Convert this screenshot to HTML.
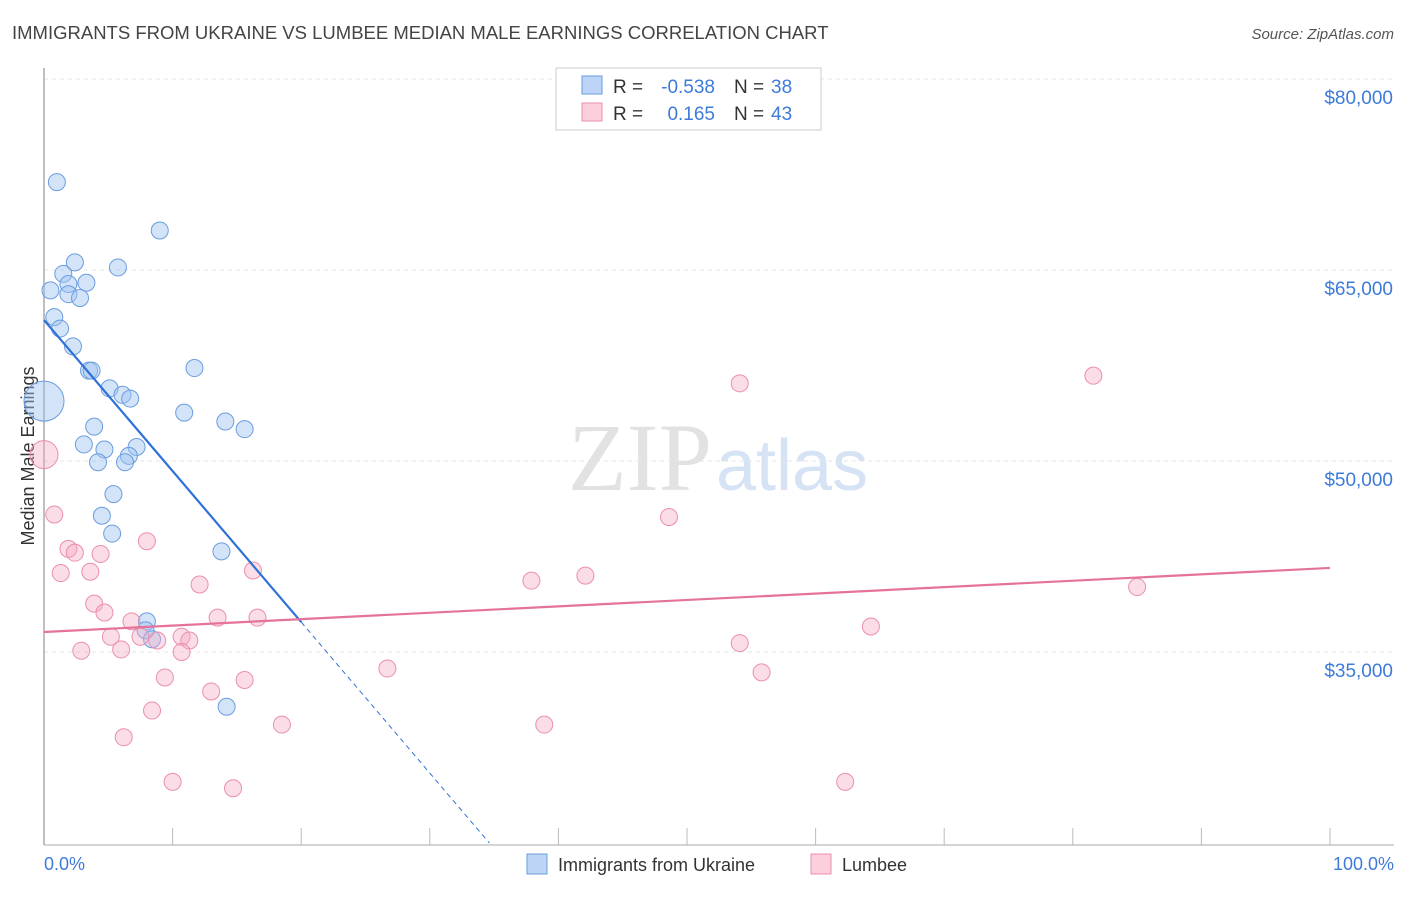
<!DOCTYPE html>
<html><head><meta charset="utf-8"><style>
body{margin:0;background:#fff;font-family:"Liberation Sans",sans-serif;}
</style></head><body>
<svg id="c" width="1406" height="892" xmlns="http://www.w3.org/2000/svg">
<text x="12" y="39" font-size="18.5" fill="#444">IMMIGRANTS FROM UKRAINE VS LUMBEE MEDIAN MALE EARNINGS CORRELATION CHART</text>
<text x="1394" y="39" font-size="15" fill="#555" font-style="italic" text-anchor="end">Source: ZipAtlas.com</text>
<text x="712" y="490" font-size="96" fill="#e2e2e2" text-anchor="end" font-family="Liberation Serif">ZIP</text>
<text x="716" y="490" font-size="72" fill="#d5e3f5">atlas</text>
<g id="grid"></g>
<line x1="44" y1="68" x2="44" y2="845" stroke="#aaa" stroke-width="1.5"/>
<line x1="44" y1="845" x2="1394" y2="845" stroke="#aaa" stroke-width="1"/>
<text x="34" y="456" font-size="18" fill="#333" text-anchor="middle" transform="rotate(-90 34 456)">Median Male Earnings</text>
<text x="44" y="870" font-size="18" fill="#3d7bd9">0.0%</text>
<text x="1394" y="870" font-size="18" fill="#3d7bd9" text-anchor="end">100.0%</text>
<g id="pts"></g>
<g id="lines"></g>
<g>
<rect x="556" y="68" width="265" height="62" fill="#fff" stroke="#ccc"/>
<rect x="582" y="76" width="20" height="18" fill="#bcd4f5" stroke="#6a9de0"/>
<rect x="582" y="103" width="20" height="18" fill="#fbd0dc" stroke="#eb8fac"/>
<text x="613" y="93" font-size="19" fill="#333">R =</text>
<text x="715" y="93" font-size="19" fill="#3d7bd9" text-anchor="end">-0.538</text>
<text x="734" y="93" font-size="19" fill="#333">N =</text>
<text x="771" y="93" font-size="19" fill="#3d7bd9">38</text>
<text x="613" y="120" font-size="19" fill="#333">R =</text>
<text x="715" y="120" font-size="19" fill="#3d7bd9" text-anchor="end">0.165</text>
<text x="734" y="120" font-size="19" fill="#333">N =</text>
<text x="771" y="120" font-size="19" fill="#3d7bd9">43</text>
</g>
<g>
<rect x="527" y="854" width="20" height="20" fill="#bcd4f5" stroke="#6a9de0"/>
<text x="558" y="871" font-size="18" fill="#333">Immigrants from Ukraine</text>
<rect x="811" y="854" width="20" height="20" fill="#fbd0dc" stroke="#eb8fac"/>
<text x="842" y="871" font-size="18" fill="#333">Lumbee</text>
</g>
</svg>
<script>
const yTicks=[35000,50000,65000,80000];
const yTickLabels=["$35,000","$50,000","$65,000","$80,000"];
const xTicks=[0,10,20,30,40,50,60,70,80,90,100];
const ukraineX=[1.0,9.0,2.4,5.75,1.5,1.9,3.3,0.5,1.9,2.8,0.8,1.25,2.25,3.5,3.7,11.7,5.1,6.1,6.7,0,10.9,14.1,15.6,3.9,3.1,4.7,7.2,6.6,4.2,6.3,5.4,4.5,5.3,13.8,8.0,7.9,8.4,14.2];
const ukraineY=[71.9,68.1,65.6,65.2,64.7,63.9,64.0,63.4,63.1,62.8,61.3,60.4,59.0,57.1,57.1,57.3,55.7,55.2,54.9,54.7,53.8,53.1,52.5,52.7,51.3,50.9,51.1,50.4,49.9,49.9,47.4,45.7,44.3,42.9,37.4,36.7,36.0,30.7];
const lumbeeX=[0,0.8,1.9,2.4,4.4,8.0,1.3,3.6,3.9,4.7,12.1,16.25,6.8,13.5,16.6,5.2,7.5,10.7,11.3,8.8,2.9,6.0,10.7,9.4,15.6,13.0,8.4,6.2,18.5,10.0,14.7,26.7,37.9,42.1,38.9,48.6,54.1,54.1,55.8,64.3,62.3,81.6,85.0];
const lumbeeY=[50.5,45.8,43.1,42.8,42.7,43.7,41.2,41.3,38.8,38.1,40.3,41.4,37.4,37.7,37.7,36.2,36.2,36.2,35.9,35.9,35.1,35.2,35.0,33.0,32.8,31.9,30.4,28.3,29.3,24.8,24.3,33.7,40.6,41.0,29.3,45.6,56.1,35.7,33.4,37.0,24.8,56.7,40.1];
const ukraineTrend=[61.07,37.35];
const lumbeeTrend=[36.57,41.6];
const NS="http://www.w3.org/2000/svg";
const sx=v=>44+v*12.86;
const sy=k=>79+(80-k)*12.733;
function mk(t,a,p){const e=document.createElementNS(NS,t);for(const k in a)e.setAttribute(k,a[k]);p.appendChild(e);return e;}
const grid=document.getElementById('grid'),pts=document.getElementById('pts'),lines=document.getElementById('lines');
yTicks.forEach((v,i)=>{
 const l=mk('line',{x1:44,x2:1394,y1:sy(v/1000),y2:sy(v/1000),stroke:'#e4e4e4','stroke-dasharray':'4,4'},grid);
 
 
 const t=mk('text',{x:1393,y:sy(v/1000)+25,'font-size':19,fill:'#3d7bd9','text-anchor':'end'},grid);
 t.textContent=yTickLabels[i];
 
 
});
xTicks.forEach(v=>{
 const l=mk('line',{x1:sx(v),x2:sx(v),y1:828,y2:845,stroke:'#bbb'},grid);
 
 
});
ukraineX.forEach((x,i)=>{
 const c=mk('circle',{cx:sx(x),cy:sy(ukraineY[i]),r:(x===0?20:8.5),fill:'rgba(160,195,240,0.45)',stroke:'#6a9de0','stroke-width':1},pts);
 
 
});
lumbeeX.forEach((x,i)=>{
 const c=mk('circle',{cx:sx(x),cy:sy(lumbeeY[i]),r:(x===0?14:8.5),fill:'rgba(245,170,195,0.4)',stroke:'#eb8fac','stroke-width':1},pts);
 
 
});
const slope=(ukraineTrend[1]-ukraineTrend[0])/20;
const xEnd=(20-ukraineTrend[0])/slope;
let l1=mk('line',{x1:sx(0),y1:sy(ukraineTrend[0]),x2:sx(20),y2:sy(ukraineTrend[1]),stroke:'#2f72d6','stroke-width':2.2},lines);


let l2=mk('line',{x1:sx(20),y1:sy(ukraineTrend[1]),x2:sx(xEnd),y2:sy(20),stroke:'#2f72d6','stroke-width':1,'stroke-dasharray':'5,4'},lines);


let l3=mk('line',{x1:sx(0),y1:sy(lumbeeTrend[0]),x2:sx(100),y2:sy(lumbeeTrend[1]),stroke:'#e5729a','stroke-width':2.2},lines);


</script>
</body></html>
